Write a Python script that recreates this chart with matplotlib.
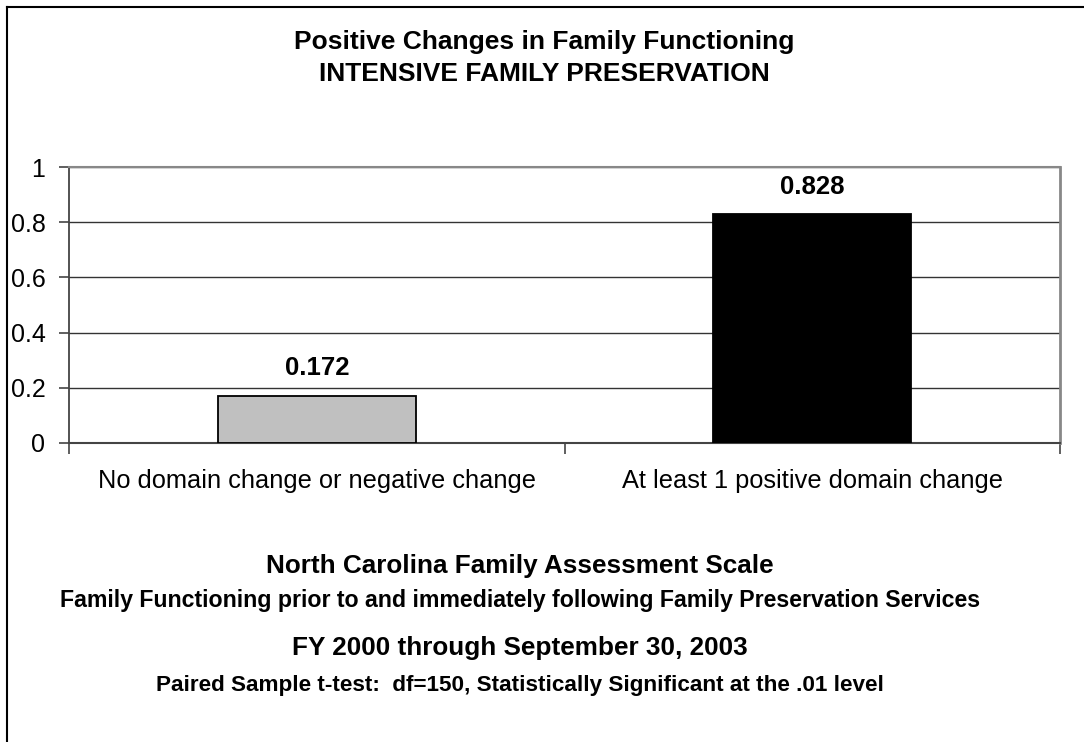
import matplotlib.pyplot as plt
from matplotlib.lines import Line2D

plt.rcParams['font.family'] = ['Liberation Sans', 'DejaVu Sans']

# data
categories = ['No domain change or negative change', 'At least 1 positive domain change']
values = [0.172, 0.828]
bar_colors = ['#c0c0c0', '#000000']
y_ticks = [0, 0.2, 0.4, 0.6, 0.8, 1]
y_tick_labels = ['0', '0.2', '0.4', '0.6', '0.8', '1']

W, H = 1084, 742
fig = plt.figure(figsize=(W / 100, H / 100), dpi=100)

# frame of the cropped chart: only top and left edges show
fig.add_artist(Line2D([7 / W, 1], [1 - 7 / H, 1 - 7 / H], transform=fig.transFigure,
                      color='black', linewidth=1.5))
fig.add_artist(Line2D([7 / W, 7 / W], [0, 1 - 7 / H], transform=fig.transFigure,
                      color='black', linewidth=1.5))

ax = fig.add_axes([69 / W, 1 - 443 / H, (1060 - 69) / W, (443 - 167) / H])

x = range(len(categories))
ax.bar(x, values, width=0.4, color=bar_colors, edgecolor='black', linewidth=1.3, zorder=3)
for i, v in enumerate(values):
    ax.text(i, v + 0.098, f'{v:.3f}', ha='center', va='center', fontsize=18.5, fontweight='bold')

ax.set_xlim(-0.5, 1.5)
ax.set_ylim(0, 1)
ax.set_yticks(y_ticks)
ax.set_yticklabels(y_tick_labels, fontsize=18)
ax.yaxis.grid(True, color='#333333', linewidth=1, zorder=0)

# category separators as x ticks
ax.set_xticks([-0.5, 0.5, 1.5])
ax.set_xticklabels([])
ax.tick_params(axis='x', direction='out', length=8, width=1.2, color='#444444')
ax.tick_params(axis='y', direction='out', length=7, width=1.2, color='#444444', pad=10)
for i, c in enumerate(categories):
    ax.text(i, -0.137, c, ha='center', va='center', fontsize=18.3)

ax.spines['left'].set_color('#444444')
ax.spines['bottom'].set_color('#444444')
ax.spines['top'].set_color('#888888')
ax.spines['right'].set_color('#888888')
ax.spines['left'].set_linewidth(1.3)
ax.spines['bottom'].set_linewidth(1.5)
ax.spines['top'].set_linewidth(1.5)
ax.spines['right'].set_linewidth(2)

# titles
fig.text(544 / W, 1 - 42 / H, 'Positive Changes in Family Functioning', ha='center', va='center',
         fontsize=19, fontweight='bold')
fig.text(544 / W, 1 - 74 / H, 'INTENSIVE FAMILY PRESERVATION', ha='center', va='center',
         fontsize=19, fontweight='bold')

# notes under the chart
nx = 520 / W
fig.text(nx, 1 - 566 / H, 'North Carolina Family Assessment Scale', ha='center', va='center',
         fontsize=18.8, fontweight='bold')
fig.text(nx, 1 - 601 / H,
         'Family Functioning prior to and immediately following Family Preservation Services',
         ha='center', va='center', fontsize=16.7, fontweight='bold')
fig.text(nx, 1 - 648 / H, 'FY 2000 through September 30, 2003', ha='center', va='center',
         fontsize=18.8, fontweight='bold')
fig.text(nx, 1 - 685 / H,
         'Paired Sample t-test:  df=150, Statistically Significant at the .01 level',
         ha='center', va='center', fontsize=16.2, fontweight='bold')

fig.savefig('out.png', dpi=100)
